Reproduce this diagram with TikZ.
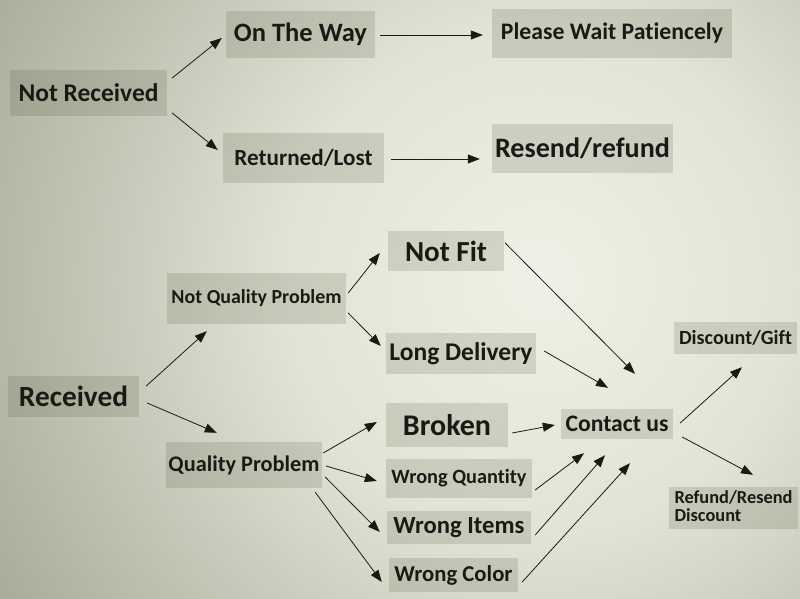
\documentclass[tikz,border=0pt]{standalone}
\usepackage{fontspec}
\setmainfont{Carlito}[Ligatures={NoCommon}]
\usetikzlibrary{arrows.meta}
\definecolor{bgA}{HTML}{F0F0E6}
\definecolor{bgB}{HTML}{E2E2D6}
\definecolor{bgC}{HTML}{A9A998}
\definecolor{boxfill}{HTML}{4A4A30}
\definecolor{ink}{HTML}{1A1A14}
\pgfdeclareradialshading{bgshade}{\pgfpoint{0bp}{0bp}}{color(0bp)=(bgA); color(10bp)=(bgB); color(25bp)=(bgC); color(50bp)=(bgC)}
\newcommand\fw[2]{\resizebox{#1pt}{!}{#2}}
\begin{document}
\begin{tikzpicture}[x=1pt,y=-1pt,
  box/.style={rectangle, inner sep=0pt, fill=boxfill, fill opacity=0.16, text opacity=1, text=ink, font=\bfseries},
  arr/.style={-{Triangle[length=12pt,width=9pt]}, line width=0.8pt, draw=ink}]
\useasboundingbox (0,0) rectangle (800,599);
\begin{scope}
\clip (0,0) rectangle (800,599);
\shade[shading=bgshade] (540,280) circle (640);
\end{scope}
% boxes
\node[box, minimum width=157pt, minimum height=46pt] (nr)  at (88.5,93)   {\fw{140}{Not Received}};
\node[box, minimum width=149pt, minimum height=47pt] (otw) at (300.5,34.5) {\fw{133}{On The Way}};
\node[box, minimum width=161pt, minimum height=50pt] (rl)  at (303.5,158)  {\fw{138}{Returned/Lost}};
\node[box, minimum width=240pt, minimum height=49pt] (pwp) at (612,33.5)   {\fw{222}{Please Wait Patiencely}};
\node[box, minimum width=181pt, minimum height=49pt] (rr)  at (582.5,148.5) {\fw{175}{Resend/refund}};
\node[box, minimum width=179pt, minimum height=51pt] (nqp) at (256.5,298.5) {\fw{170}{Not Quality Problem}};
\node[box, minimum width=116pt, minimum height=40pt] (nf)  at (446,251)    {\fw{82}{Not Fit}};
\node[box, minimum width=150pt, minimum height=41pt] (ld)  at (461,353.5)  {\fw{143}{Long Delivery}};
\node[box, minimum width=131pt, minimum height=41pt] (rec) at (73.5,396.5) {\fw{109}{Received}};
\node[box, minimum width=156pt, minimum height=46pt] (qp)  at (244,465)    {\fw{151}{Quality Problem}};
\node[box, minimum width=122pt, minimum height=44pt] (br)  at (447,425)    {\fw{88}{Broken}};
\node[box, minimum width=146pt, minimum height=39pt] (wq)  at (459,478.5)  {\fw{135}{Wrong Quantity}};
\node[box, minimum width=144pt, minimum height=33pt] (wi)  at (459,527.5)  {\fw{131}{Wrong Items}};
\node[box, minimum width=129pt, minimum height=34pt] (wc)  at (453.5,575)  {\fw{118}{Wrong Color}};
\node[box, minimum width=112pt, minimum height=30pt] (cu)  at (617,424)    {\fw{103}{Contact us}};
\node[box, minimum width=123pt, minimum height=32pt] (dg)  at (735.5,338)  {\fw{113}{Discount/Gift}};
\node[box, minimum width=129pt, minimum height=42pt] (rrd) at (733.5,508)  {\resizebox{118pt}{!}{\begin{tabular}{@{}l@{}}Refund/Resend\\[-2pt]Discount\end{tabular}}};
% arrows
\draw[arr] ([shift={(5,-15)}]nr.east) -- ([shift={(-4,3.5)}]otw.west);
\draw[arr] ([shift={(5,20)}]nr.east) -- ([shift={(-5,-8)}]rl.west);
\draw[arr] ([shift={(5,0.5)}]otw.east) -- ([shift={(-9,1.5)}]pwp.west);
\draw[arr] ([shift={(7,1)}]rl.east) -- ([shift={(-12,10.5)}]rr.west);
\draw[arr] ([shift={(7,-10.5)}]rec.east) -- ([shift={(40,7)}]nqp.south west);
\draw[arr] ([shift={(8,6.5)}]rec.east) -- ([shift={(51,-9)}]qp.north west);
\draw[arr] ([shift={(2,-5.5)}]nqp.east) -- ([shift={(-8,2)}]nf.west);
\draw[arr] ([shift={(2,14.5)}]nqp.east) -- ([shift={(-5,-7.5)}]ld.west);
\draw[arr] ([shift={(1,-12)}]qp.east) -- ([shift={(-9,-3)}]br.west);
\draw[arr] ([shift={(4,1)}]qp.east) -- ([shift={(-9,2.5)}]wq.west);
\draw[arr] ([shift={(3,12)}]qp.east) -- ([shift={(-7,4.5)}]wi.west);
\draw[arr] ([shift={(-7,4)}]qp.south east) -- ([shift={(-7,7)}]wc.west);
\draw[arr] ([shift={(1,-8)}]nf.east) -- ([shift={(18,-35)}]cu.north);
\draw[arr] ([shift={(8,-2.5)}]ld.east) -- ([shift={(-9,-21)}]cu.north);
\draw[arr] ([shift={(4,8)}]br.east) -- ([shift={(-6,1)}]cu.west);
\draw[arr] ([shift={(3,11.5)}]wq.east) -- ([shift={(-33,14)}]cu.south);
\draw[arr] ([shift={(4,7.5)}]wi.east) -- ([shift={(-12,16)}]cu.south);
\draw[arr] ([shift={(4,7)}]wc.east) -- ([shift={(13,24)}]cu.south);
\draw[arr] ([shift={(7,-1)}]cu.east) -- ([shift={(6.5,13)}]dg.south);
\draw[arr] ([shift={(9,13)}]cu.east) -- ([shift={(19.5,-12)}]rrd.north);
\end{tikzpicture}
\end{document}
